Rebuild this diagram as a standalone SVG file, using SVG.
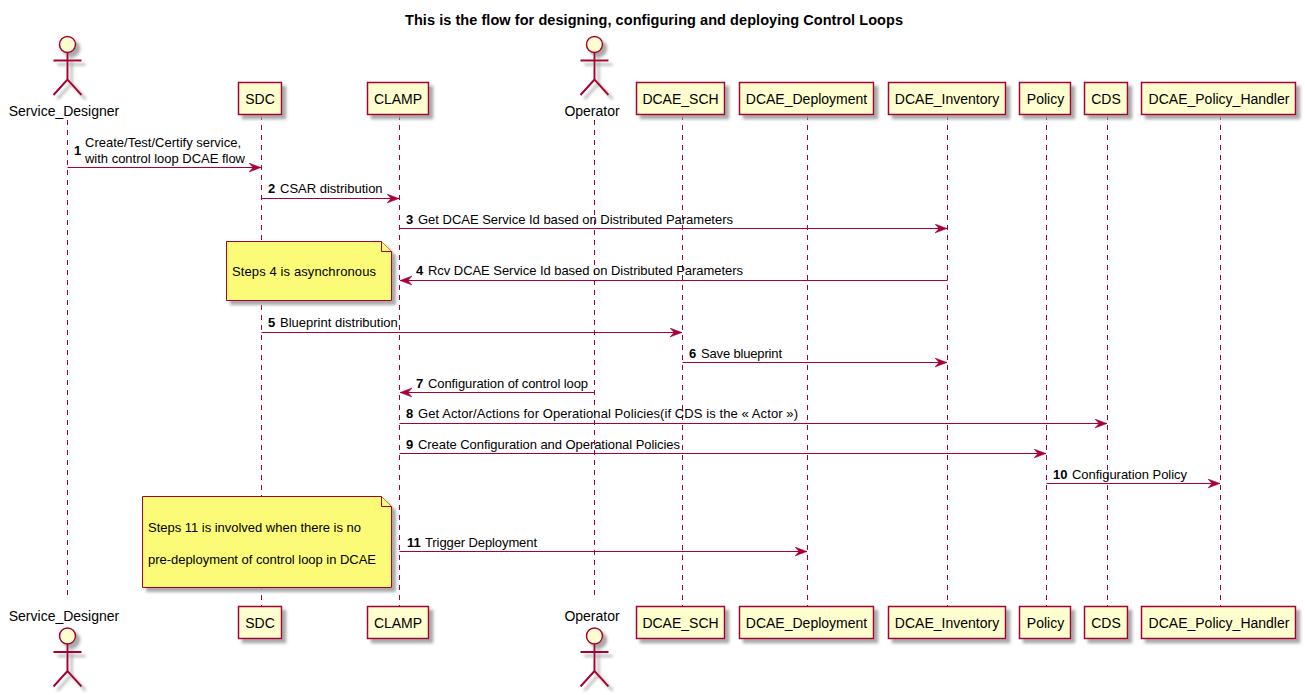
<svg xmlns="http://www.w3.org/2000/svg" width="1305" height="695" viewBox="0 0 1305 695">
<defs>
<filter id="sh" x="-30%" y="-30%" width="170%" height="170%"><feGaussianBlur in="SourceAlpha" stdDeviation="1.4"/><feOffset dx="4" dy="4"/><feColorMatrix type="matrix" values="0 0 0 0 0.35 0 0 0 0 0.35 0 0 0 0 0.35 0 0 0 0.9 0"/><feMerge><feMergeNode/><feMergeNode in="SourceGraphic"/></feMerge></filter>
<marker id="ah" markerUnits="userSpaceOnUse" markerWidth="14" markerHeight="12" refX="12" refY="5" orient="auto-start-reverse"><path d="M0,0.5 L12,5 L0,9.500 L4,5 Z" fill="#A80036" stroke="#A80036" stroke-width="0.5"/></marker>
<symbol id="actor" overflow="visible"><circle cx="0" cy="0" r="8" class="n"/><path d="M0,8 V35 M-14,16 H14 M-14,50.500 L0,35 L14,50.500" fill="none" stroke="#A80036" stroke-width="2"/></symbol>
</defs>
<style>
text{font-family:"Liberation Sans",Arial,sans-serif;fill:#000}
.p{font-size:14px;text-anchor:middle}
.m{font-size:13px}
.b{font-size:13px;font-weight:bold}
.n{fill:#FEFECE;stroke:#A80036;stroke-width:1.5}
.note{fill:#FBFB77;stroke:#A80036;stroke-width:1}
.l{stroke:#A80036;stroke-width:1;stroke-dasharray:5,5;fill:none}
.c{stroke:#A80036;stroke-width:1;fill:none;marker-end:url(#ah)}
</style>
<text x="654" y="25" font-size="14.5" font-weight="bold" text-anchor="middle" textLength="498">This is the flow for designing, configuring and deploying Control Loops</text>
<g id="lifelines">
<path class="l" d="M67.5,120V600"/><path class="l" d="M261.5,115V606"/><path class="l" d="M399.5,115V606"/><path class="l" d="M594.5,120V600"/><path class="l" d="M682.5,115V606"/><path class="l" d="M807.5,115V606"/><path class="l" d="M947.5,115V606"/><path class="l" d="M1046.5,115V606"/><path class="l" d="M1107.5,115V606"/><path class="l" d="M1220.5,115V606"/>
</g>
<g id="connectors">
<path class="c" d="M67.5,167.500H261"/><path class="c" d="M261.5,198.500H399"/><path class="c" d="M399.5,228.500H947"/><path class="c" d="M947.5,280.500H400"/><path class="c" d="M261.5,332.500H682"/><path class="c" d="M682.5,362.500H947"/><path class="c" d="M594,392.500H400"/><path class="c" d="M399.5,423.500H1107"/><path class="c" d="M399.5,453.500H1046"/><path class="c" d="M1046.5,483.500H1220"/><path class="c" d="M399.5,551.500H807"/>
</g>
<g id="msg1"><text class="b" x="74" y="155">1</text><text class="m" x="85" y="147">Create/Test/Certify service,</text><text class="m" x="85" y="163" textLength="160">with control loop DCAE flow</text></g>
<g id="msg2"><text class="b" x="268" y="193">2</text><text class="m" x="280" y="193">CSAR distribution</text></g>
<g id="msg3"><text class="b" x="406" y="224">3</text><text class="m" x="418" y="224" textLength="315">Get DCAE Service Id based on Distributed Parameters</text></g>
<g id="msg4"><text class="b" x="416" y="275">4</text><text class="m" x="428" y="275" textLength="315">Rcv DCAE Service Id based on Distributed Parameters</text></g>
<g id="msg5"><text class="b" x="268" y="327">5</text><text class="m" x="280" y="327">Blueprint distribution</text></g>
<g id="msg6"><text class="b" x="689" y="358">6</text><text class="m" x="701" y="358" textLength="81">Save blueprint</text></g>
<g id="msg7"><text class="b" x="416" y="388">7</text><text class="m" x="428" y="388" textLength="160">Configuration of control loop</text></g>
<g id="msg8"><text class="b" x="406" y="418">8</text><text class="m" x="418" y="418" textLength="380">Get Actor/Actions for Operational Policies(if CDS is the « Actor »)</text></g>
<g id="msg9"><text class="b" x="406" y="449">9</text><text class="m" x="418" y="449" textLength="262">Create Configuration and Operational Policies</text></g>
<g id="msg10"><text class="b" x="1053" y="479">10</text><text class="m" x="1072" y="479" textLength="115">Configuration Policy</text></g>
<g id="msg11"><text class="b" x="407" y="547">11</text><text class="m" x="425" y="547" textLength="112">Trigger Deployment</text></g>
<g id="note4"><path class="note" filter="url(#sh)" d="M226.5,241.500H381.500L391.500,251.500V300.500H226.500Z"/><path class="note" d="M381.500,241.500V251.500H391.500"/><text class="m" x="232" y="276" textLength="144">Steps 4 is asynchronous</text></g>
<g id="note11"><path class="note" filter="url(#sh)" d="M142.500,496.500H381.500L391.500,506.500V587.500H142.500Z"/><path class="note" d="M381.500,496.500V506.500H391.500"/><text class="m" x="148" y="532" textLength="213">Steps 11 is involved when there is no</text><text class="m" x="148" y="564" textLength="228">pre-deployment of control loop in DCAE</text></g>
<g id="Service_Designer_top"><use href="#actor" x="67.5" y="44.500" filter="url(#sh)"/><text class="p" x="64" y="116">Service_Designer</text></g>
<g id="SDC_top"><rect class="n" filter="url(#sh)" x="238.500" y="82.500" width="43" height="32"/><text class="p" x="260" y="104">SDC</text></g>
<g id="CLAMP_top"><rect class="n" filter="url(#sh)" x="367.500" y="82.500" width="61" height="32"/><text class="p" x="398" y="104">CLAMP</text></g>
<g id="Operator_top"><use href="#actor" x="594.500" y="44.500" filter="url(#sh)"/><text class="p" x="592" y="116">Operator</text></g>
<g id="DCAE_SCH_top"><rect class="n" filter="url(#sh)" x="636.500" y="82.500" width="88" height="32"/><text class="p" x="680.500" y="104">DCAE_SCH</text></g>
<g id="DCAE_Deployment_top"><rect class="n" filter="url(#sh)" x="739.500" y="82.500" width="134" height="32"/><text class="p" x="806.500" y="104">DCAE_Deployment</text></g>
<g id="DCAE_Inventory_top"><rect class="n" filter="url(#sh)" x="888.500" y="82.500" width="117" height="32"/><text class="p" x="947" y="104">DCAE_Inventory</text></g>
<g id="Policy_top"><rect class="n" filter="url(#sh)" x="1019.500" y="82.500" width="51" height="32"/><text class="p" x="1045.500" y="104">Policy</text></g>
<g id="CDS_top"><rect class="n" filter="url(#sh)" x="1084.500" y="82.500" width="43" height="32"/><text class="p" x="1106" y="104">CDS</text></g>
<g id="DCAE_Policy_Handler_top"><rect class="n" filter="url(#sh)" x="1141.500" y="82.500" width="154" height="32"/><text class="p" x="1219" y="104">DCAE_Policy_Handler</text></g>
<g id="Service_Designer_bottom"><text class="p" x="64" y="621">Service_Designer</text><use href="#actor" x="67.5" y="636" filter="url(#sh)"/></g>
<g id="SDC_bottom"><rect class="n" filter="url(#sh)" x="238.500" y="606.500" width="43" height="32"/><text class="p" x="260" y="628">SDC</text></g>
<g id="CLAMP_bottom"><rect class="n" filter="url(#sh)" x="367.500" y="606.500" width="61" height="32"/><text class="p" x="398" y="628">CLAMP</text></g>
<g id="Operator_bottom"><text class="p" x="592" y="621">Operator</text><use href="#actor" x="594.500" y="636" filter="url(#sh)"/></g>
<g id="DCAE_SCH_bottom"><rect class="n" filter="url(#sh)" x="636.500" y="606.500" width="88" height="32"/><text class="p" x="680.500" y="628">DCAE_SCH</text></g>
<g id="DCAE_Deployment_bottom"><rect class="n" filter="url(#sh)" x="739.500" y="606.500" width="134" height="32"/><text class="p" x="806.500" y="628">DCAE_Deployment</text></g>
<g id="DCAE_Inventory_bottom"><rect class="n" filter="url(#sh)" x="888.500" y="606.500" width="117" height="32"/><text class="p" x="947" y="628">DCAE_Inventory</text></g>
<g id="Policy_bottom"><rect class="n" filter="url(#sh)" x="1019.500" y="606.500" width="51" height="32"/><text class="p" x="1045.500" y="628">Policy</text></g>
<g id="CDS_bottom"><rect class="n" filter="url(#sh)" x="1084.500" y="606.500" width="43" height="32"/><text class="p" x="1106" y="628">CDS</text></g>
<g id="DCAE_Policy_Handler_bottom"><rect class="n" filter="url(#sh)" x="1141.500" y="606.500" width="154" height="32"/><text class="p" x="1219" y="628">DCAE_Policy_Handler</text></g>
</svg>
